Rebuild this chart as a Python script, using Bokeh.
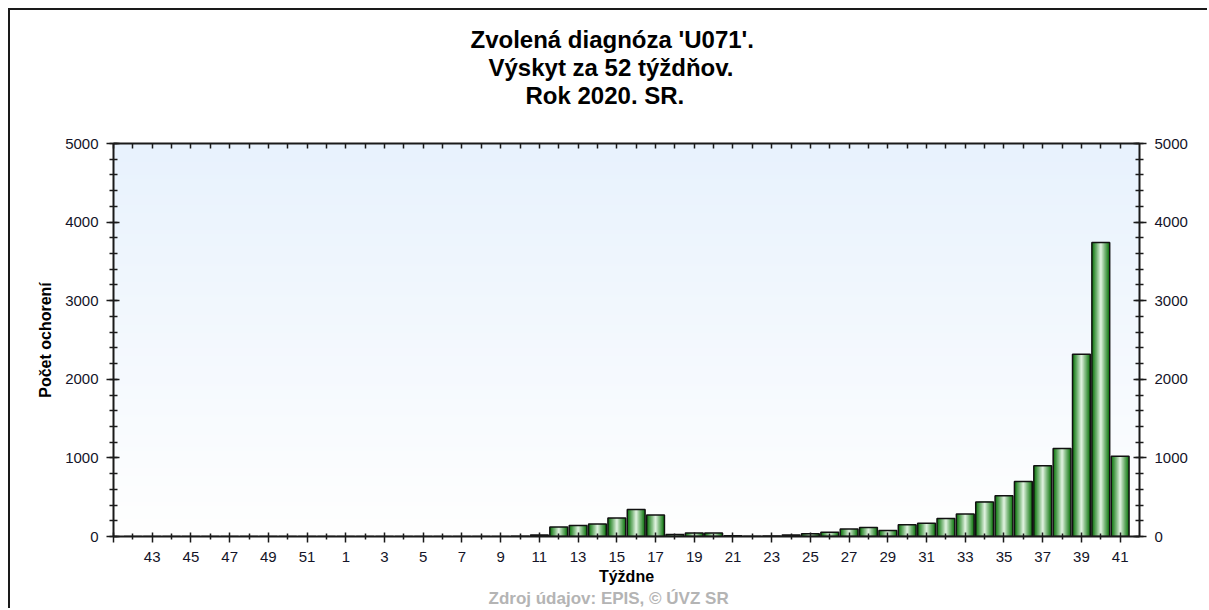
import numpy as np
from bokeh.plotting import figure
from bokeh.models import (ColumnDataSource, LinearAxis, FixedTicker,
                          SingleIntervalTicker, Range1d, Title)
from bokeh.embed import file_html
from bokeh.resources import INLINE

# ---------------- data ----------------
weeks = list(range(42, 53)) + list(range(1, 42))
cases = [0, 0, 0, 0, 0, 0, 0, 0, 0, 0, 0,          # 42..52 (2019)
         0, 0, 0, 0, 0, 0, 0, 0, 0, 2,             # 1..10
         20, 120, 140, 160, 235, 345, 275, 25, 45, 45,   # 11..20
         8, 4, 5, 20, 35, 55, 95, 115, 75, 150,    # 21..30
         170, 230, 285, 440, 520, 700, 900, 1120, 2320, 3740,  # 31..40
         1020]                                      # 41
title_lines = ["Zvolená diagnóza 'U071'.", "Výskyt za 52 týždňov.", "Rok 2020. SR."]
x_title = "Týždne"
y_title = "Počet ochorení"
source_note = "Zdroj údajov: EPIS, © ÚVZ SR"
y_max = 5000
y_step = 1000

idx = list(range(len(weeks)))
src = ColumnDataSource(dict(x=idx, top=cases))

font = "Liberation Sans"
ax_col = "#1a1a1a"

x_start, x_end = -1, len(weeks)
p = figure(width=1199, height=600, title=None,
           x_range=Range1d(x_start, x_end), y_range=Range1d(0, y_max),
           output_backend="svg", toolbar_location=None,
           min_border_left=103, min_border_right=70,
           min_border_top=133, min_border_bottom=74)
p.styles = {"margin-left": "8px", "margin-top": "8px",
            "border-top": "2px solid #1a1a1a", "border-left": "2px solid #1a1a1a"}
p.background_fill_color = "white"
p.border_fill_color = "white"
p.outline_line_color = None
p.grid.visible = False

xa = p.below[0]
ya = p.left[0]

# ---------------- axes ----------------
major = [-1] + list(range(1, len(weeks), 2))
minor = list(range(0, len(weeks), 2))
overrides = {i: str(weeks[i]) for i in range(1, len(weeks), 2)}
overrides[-1] = ""

xa.ticker = FixedTicker(ticks=major, minor_ticks=minor)
xa.major_label_overrides = overrides
xa.axis_label = x_title
ya.ticker = SingleIntervalTicker(interval=y_step, num_minor_ticks=5)
ya.axis_label = y_title

ra = LinearAxis(ticker=SingleIntervalTicker(interval=y_step, num_minor_ticks=5))
p.add_layout(ra, "right")

ta = LinearAxis(ticker=FixedTicker(ticks=major, minor_ticks=minor))
ta.major_label_text_font_size = "0px"
ta.major_label_text_color = None
ta.major_label_standoff = 0
p.add_layout(ta, "above")

# blank spacer row (white on white) between the top axis and the title block
p.add_layout(Title(text=" ", standoff=0, text_font=font, text_font_size="30px",
                   text_color="white"), "above")

# title lines, one Title per line (closest to the plot first)
title_offsets = [357, 375, 412]
for line, off in reversed(list(zip(title_lines, title_offsets))):
    p.add_layout(Title(text=line, align="left", offset=off, standoff=-1,
                       text_font=font, text_font_style="bold",
                       text_font_size="24px", text_color="black"), "above")

# source note below the x axis
p.add_layout(Title(text=source_note, align="left", offset=375, standoff=-2,
                   text_font=font, text_font_style="bold", text_font_size="17px",
                   text_color="#b4b4b4"), "below")

# gradient background of plot area
n = 200
img = np.empty((n, 1), dtype=np.uint32)
view = img.view(dtype=np.uint8).reshape((n, 1, 4))
top_c = np.array([232, 242, 253])
bot_c = np.array([255, 255, 255])
for i in range(n):
    t = i / (n - 1)
    c = bot_c * (1 - t) + top_c * t
    view[i, 0, 0] = int(c[0]); view[i, 0, 1] = int(c[1]); view[i, 0, 2] = int(c[2]); view[i, 0, 3] = 255
p.image_rgba(image=[img], x=x_start, y=0, dw=x_end - x_start, dh=y_max)

# bars with horizontal cylinder-like gradient
bar_w = 0.92
dark = np.array([14, 118, 14])
light = np.array([242, 253, 242])
N = 14
for k in range(N):
    h = 1 - k / N
    f = h ** 0.9
    c = light * (1 - f) + dark * f
    col = "#%02x%02x%02x" % tuple(int(v) for v in c)
    p.vbar(x="x", top="top", width=bar_w * h, source=src,
           fill_color=col, line_color=None)
p.vbar(x="x", top="top", width=bar_w, source=src,
       fill_color=None, line_color="#111111", line_width=1.5)

for ax in [xa, ya, ra, ta]:
    ax.axis_line_color = ax_col
    ax.axis_line_width = 2
    ax.major_tick_line_color = ax_col
    ax.minor_tick_line_color = ax_col
    ax.major_tick_line_width = 1.5
    ax.minor_tick_line_width = 1.5
    ax.major_label_text_font = font
    ax.axis_label_text_font = font
    ax.axis_label_text_font_style = "bold"
    ax.axis_label_text_font_size = "16px"
    ax.axis_label_text_color = "black"

for ax in [xa, ya, ra]:
    ax.major_label_text_font_size = "15px"
    ax.major_label_text_color = "#141428"

xa.major_tick_in = 4; xa.major_tick_out = 6
xa.minor_tick_in = 3; xa.minor_tick_out = 3
xa.major_label_standoff = 9
xa.axis_label_standoff = 3

ta.major_tick_in = 5; ta.major_tick_out = 0
ta.minor_tick_in = 5; ta.minor_tick_out = 0

for ax in [ya, ra]:
    ax.major_tick_in = 6; ax.major_tick_out = 7
    ax.minor_tick_in = 4; ax.minor_tick_out = 4
ya.major_label_standoff = 8
ya.axis_label_standoff = 8
ra.major_label_standoff = 8

open("out.html", "w").write(file_html(p, INLINE))
